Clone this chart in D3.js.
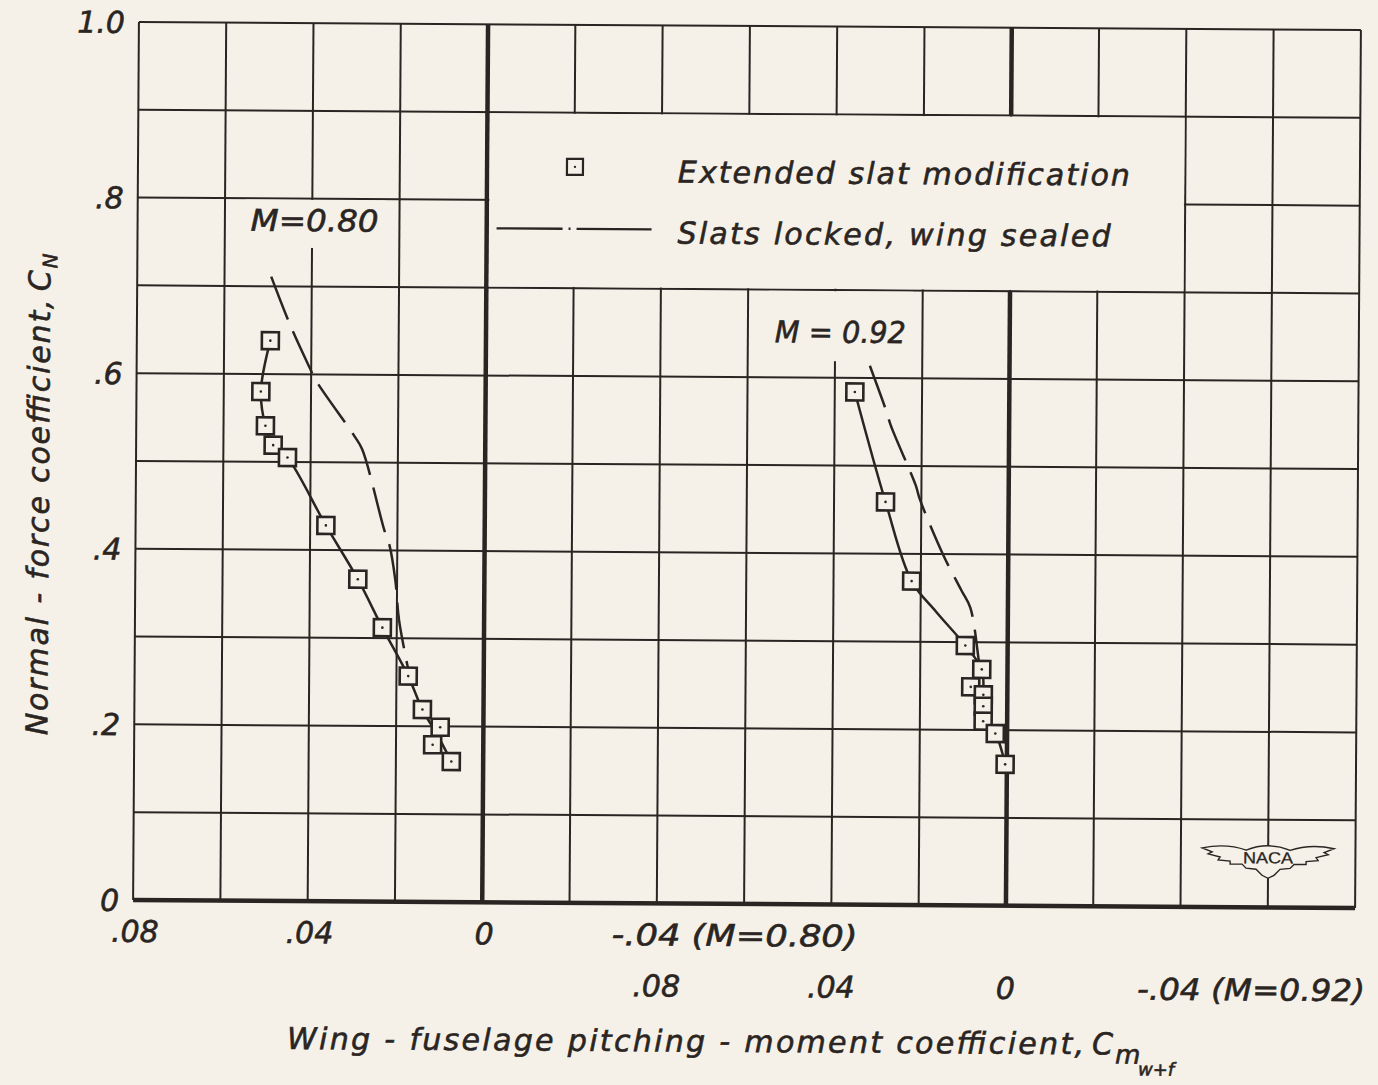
<!DOCTYPE html>
<html>
<head>
<meta charset="utf-8">
<script src="https://cdn.jsdelivr.net/npm/d3@7"></script>
<style>
  body { margin: 0; background: #f5f1e8; }
  svg { display: block; }
  text { font-family: "DejaVu Sans", "Liberation Sans", sans-serif; font-style: italic; fill: #2a2522; stroke: #2a2522; stroke-width: 0.6px; }
</style>
</head>
<body>
<div class="chart"></div>
<script>
// axis ticks
const yTicks = [0, 0.2, 0.4, 0.6, 0.8, 1.0];
const yTickLabels = ["0", ".2", ".4", ".6", ".8", "1.0"];
const xTicks80 = [0.08, 0.04, 0];
const xTickLabels80 = [".08", ".04", "0"];
const xTicks92 = [0.08, 0.04, 0];
const xTickLabels92 = [".08", ".04", "0"];

// M = 0.80, extended slat modification (symbols)
const slat80CN = [0.638, 0.580, 0.541, 0.519, 0.505, 0.428, 0.367, 0.312, 0.257, 0.219, 0.199, 0.179, 0.160];
const slat80Cm = [0.0494, 0.0515, 0.0504, 0.0486, 0.0453, 0.0364, 0.0290, 0.0233, 0.0173, 0.0140, 0.0099, 0.0116, 0.0073];
// faired curve through them
const fair80CN = [0.638, 0.580, 0.541, 0.519, 0.505, 0.428, 0.367, 0.312, 0.257, 0.219, 0.190, 0.160];
const fair80Cm = [0.0494, 0.0515, 0.0504, 0.0486, 0.0453, 0.0364, 0.0290, 0.0233, 0.0173, 0.0140, 0.0105, 0.0073];
// M = 0.80, slats locked, wing sealed
const locked80CN = [0.711, 0.655, 0.608, 0.593, 0.530, 0.515, 0.423, 0.406, 0.366, 0.321, 0.262];
const locked80Cm = [0.0493, 0.0448, 0.0404, 0.0389, 0.0300, 0.0282, 0.0230, 0.0218, 0.0204, 0.0195, 0.0172];

// M = 0.92, extended slat modification (symbols)
const slat92CN = [0.584, 0.459, 0.369, 0.296, 0.269, 0.249, 0.240, 0.227, 0.210, 0.196, 0.161];
const slat92Cm = [0.0354, 0.0282, 0.0221, 0.0097, 0.0059, 0.0084, 0.0055, 0.0055, 0.0055, 0.0027, 0.0004];
const fair92CN = [0.584, 0.459, 0.369, 0.334, 0.296, 0.269, 0.240, 0.210, 0.196, 0.161];
const fair92Cm = [0.0354, 0.0282, 0.0221, 0.0164, 0.0097, 0.0059, 0.0055, 0.0055, 0.0027, 0.0004];
// M = 0.92, slats locked, wing sealed
const locked92CN = [0.614, 0.563, 0.546, 0.478, 0.463, 0.399, 0.359, 0.339, 0.276, 0.262];
const locked92Cm = [0.0320, 0.0282, 0.0271, 0.0213, 0.0204, 0.0149, 0.0107, 0.0086, 0.0065, 0.0060];

const ink = "#2a2522", paper = "#f5f1e8";

function init(){
    createChart(".chart");
}

function createChart(id){
    const W = 1378, H = 1085;
    const L = 136, R = 1358, T = 26, B = 904;
    const fs = "30px";

    const svg = d3.select(id)
        .append("svg")
        .attr("width", W)
        .attr("height", H);

    // the scanned sheet sits slightly rotated
    const g = svg.append("g")
        .attr("transform", "rotate(0.38, 747, 465)");

    const y = d3.scaleLinear().domain([0, 1]).range([B, T]);
    const x80 = d3.scaleLinear().domain([0.08, -0.20]).range([L, R]);
    const x92 = d3.scaleLinear().domain([0.20, -0.08]).range([L, R]);

    // grid
    const grid = g.append("g").attr("stroke", ink).attr("fill", "none");
    grid.selectAll(".v")
        .data(d3.range(15).map(i => 0.08 - i * 0.02))
        .join("line")
        .attr("x1", d => x80(d)).attr("x2", d => x80(d))
        .attr("y1", T).attr("y2", B)
        .attr("stroke-width", 2);
    grid.selectAll(".h")
        .data(d3.range(11).map(i => i / 10))
        .join("line")
        .attr("x1", L).attr("x2", R)
        .attr("y1", d => y(d)).attr("y2", d => y(d))
        .attr("stroke-width", d => d === 0 ? 4.5 : 2);

    // blank panels: legend, curve labels
    g.append("rect")
        .attr("x", x80(0) + 2.5).attr("y", y(0.9) + 1.2)
        .attr("width", x80(-0.16) - x80(0) - 3.7)
        .attr("height", y(0.7) - y(0.9) - 2.4)
        .attr("fill", paper);
    g.append("rect")
        .attr("x", 244).attr("y", y(0.8) + 1.2)
        .attr("width", 140).attr("height", 48)
        .attr("fill", paper);
    g.append("rect")
        .attr("x", 768).attr("y", y(0.7) + 1.2)
        .attr("width", 144).attr("height", 70)
        .attr("fill", paper);

    // zero lines for both Mach numbers
    grid.append("line")
        .attr("x1", x80(0)).attr("x2", x80(0))
        .attr("y1", T).attr("y2", B).attr("stroke-width", 4.5);
    grid.append("line")
        .attr("x1", x92(0)).attr("x2", x92(0))
        .attr("y1", T).attr("y2", y(0.9)).attr("stroke-width", 4.5);
    grid.append("line")
        .attr("x1", x92(0)).attr("x2", x92(0))
        .attr("y1", y(0.7)).attr("y2", B).attr("stroke-width", 4.5);

    // NACA wing badge
    const badge = g.append("g")
        .attr("transform", `translate(${x80(-0.18)}, ${y(0.056)})`);
    badge.append("path")
        .attr("d", "M-66,-10 Q-42,-15 -22,-8 Q0,-17 22,-8 Q42,-15 66,-10 L56,-6 L60,-4 L48,-1 L50,2 L38,3 L38,6 L26,6 L22,10 L12,11 L6,17 L0,20 L-6,17 L-12,11 L-22,10 L-26,6 L-38,6 L-38,3 L-50,2 L-48,-1 L-60,-4 L-56,-6 Z")
        .attr("fill", paper).attr("stroke", ink).attr("stroke-width", 1.4);
    badge.append("text")
        .attr("x", 0).attr("y", 5)
        .attr("text-anchor", "middle")
        .attr("textLength", 50).attr("lengthAdjust", "spacingAndGlyphs")
        .style("font-family", "Liberation Sans")
        .style("font-style", "normal")
        .style("stroke-width", "0.3px")
        .style("font-size", "16px")
        .text("NACA");

    // curves
    const line = (xs) => d3.line()
        .x(d => xs(d[0])).y(d => y(d[1]))
        .curve(d3.curveCatmullRom.alpha(0.5));
    const pairs = (cm, cn) => cm.map((v, i) => [v, cn[i]]);

    const curves = [
        {xs: x80, pts: pairs(fair80Cm, fair80CN), dash: null},
        {xs: x80, pts: pairs(locked80Cm, locked80CN), dash: "46,13"},
        {xs: x92, pts: pairs(fair92Cm, fair92CN), dash: null},
        {xs: x92, pts: pairs(locked92Cm, locked92CN), dash: "44,13"}
    ];
    curves.forEach(c => {
        g.append("path")
            .attr("d", line(c.xs)(c.pts))
            .attr("fill", "none")
            .attr("stroke", ink)
            .attr("stroke-width", 2.5)
            .attr("stroke-dasharray", c.dash);
    });

    // symbols
    const sq = 17;
    function squares(xs, cm, cn){
        const s = g.append("g").selectAll("g")
            .data(pairs(cm, cn))
            .join("g")
            .attr("transform", d => `translate(${xs(d[0])}, ${y(d[1])})`);
        s.append("rect")
            .attr("x", -sq / 2).attr("y", -sq / 2)
            .attr("width", sq).attr("height", sq)
            .attr("fill", paper).attr("stroke", ink).attr("stroke-width", 2.6);
        s.append("circle").attr("r", 1.3).attr("fill", ink);
    }
    squares(x80, slat80Cm, slat80CN);
    squares(x92, slat92Cm, slat92CN);

    // legend
    const lg = g.append("g");
    lg.append("rect")
        .attr("x", 573 - 8).attr("y", 168 - 8)
        .attr("width", 16).attr("height", 16)
        .attr("fill", "none").attr("stroke", ink).attr("stroke-width", 2.2);
    lg.append("circle").attr("cx", 573).attr("cy", 168).attr("r", 1.2).attr("fill", ink);
    lg.append("line")
        .attr("x1", 495).attr("x2", 650).attr("y1", 230).attr("y2", 230)
        .attr("stroke", ink).attr("stroke-width", 2.4)
        .attr("stroke-dasharray", "66,6,2,6,75");
    lg.append("text")
        .attr("x", 676).attr("y", 183)
        .attr("textLength", 452).attr("lengthAdjust", "spacing")
        .style("font-size", fs)
        .text("Extended slat modification");
    lg.append("text")
        .attr("x", 676).attr("y", 244)
        .attr("textLength", 433).attr("lengthAdjust", "spacing")
        .style("font-size", fs)
        .text("Slats locked, wing sealed");

    // curve labels
    g.append("text")
        .attr("x", 249).attr("y", 234)
        .attr("textLength", 128).attr("lengthAdjust", "spacingAndGlyphs")
        .style("font-size", fs)
        .text("M=0.80");
    g.append("text")
        .attr("x", 774).attr("y", 342)
        .attr("textLength", 131).attr("lengthAdjust", "spacingAndGlyphs")
        .style("font-size", fs)
        .text("M = 0.92");

    // y axis labels
    g.selectAll(".ytick")
        .data(yTicks)
        .join("text")
        .attr("x", L - 14)
        .attr("y", d => y(d) + 11)
        .attr("text-anchor", "end")
        .style("font-size", fs)
        .text((d, i) => yTickLabels[i]);

    // x axis labels, two rows
    g.selectAll(".x80")
        .data(xTicks80)
        .join("text")
        .attr("x", d => x80(d) + 2)
        .attr("y", B + 42)
        .attr("text-anchor", "middle")
        .style("font-size", fs)
        .text((d, i) => xTickLabels80[i]);
    g.append("text")
        .attr("x", x80(-0.04) - 45).attr("y", B + 42)
        .attr("textLength", 246).attr("lengthAdjust", "spacingAndGlyphs")
        .style("font-size", fs)
        .text("-.04 (M=0.80)");
    g.selectAll(".x92")
        .data(xTicks92)
        .join("text")
        .attr("x", d => x92(d))
        .attr("y", B + 93)
        .attr("text-anchor", "middle")
        .style("font-size", fs)
        .text((d, i) => xTickLabels92[i]);
    g.append("text")
        .attr("x", x92(-0.04) - 43).attr("y", B + 93)
        .attr("textLength", 228).attr("lengthAdjust", "spacingAndGlyphs")
        .style("font-size", fs)
        .text("-.04 (M=0.92)");

    // x title
    g.append("text")
        .attr("x", 291).attr("y", 1052)
        .attr("textLength", 797).attr("lengthAdjust", "spacing")
        .style("font-size", fs)
        .text("Wing - fuselage  pitching - moment  coefficient,");
    g.append("text").attr("x", 1096).attr("y", 1052).style("font-size", fs).text("C");
    g.append("text").attr("x", 1119).attr("y", 1061).style("font-size", "26px").text("m");
    g.append("text").attr("x", 1142).attr("y", 1073).style("font-size", "18px").text("w+f");

    // y title
    const yt = g.append("g")
        .attr("transform", `translate(49, 740) rotate(-90)`);
    yt.append("text")
        .attr("x", 0).attr("y", 0)
        .attr("textLength", 436).attr("lengthAdjust", "spacing")
        .style("font-size", fs)
        .text("Normal - force  coefficient,");
    yt.append("text").attr("x", 444).attr("y", 0).style("font-size", fs).text("C");
    yt.append("text").attr("x", 467).attr("y", 7).style("font-size", "20px").text("N");
}

init();
</script>
</body>
</html>
